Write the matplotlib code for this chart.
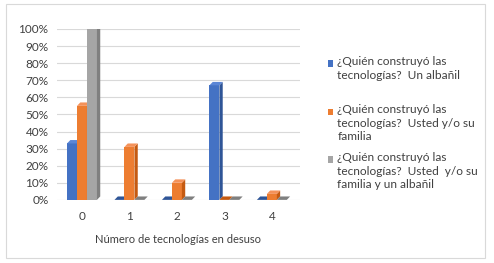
import matplotlib.pyplot as plt
import numpy as np
from matplotlib.patches import Polygon, Rectangle

plt.rcParams['font.family'] = ['Lato', 'DejaVu Sans']

# Data
categories = ['0', '1', '2', '3', '4']
albanil = [0.33, 0.0, 0.0, 0.67, 0.0]
familia = [0.55, 0.31, 0.10, 0.0, 0.035]
familia_albanil = [1.00, 0.0, 0.0, 0.0, 0.0]
series_labels = [
    '¿Quién construyó las\ntecnologías?  Un albañil',
    '¿Quién construyó las\ntecnologías?  Usted y/o su\nfamilia',
    '¿Quién construyó las\ntecnologías?  Usted  y/o su\nfamilia y un albañil',
]
y_ticks = [i / 10 for i in range(11)]
y_ticklabels = [f'{i * 10}%' for i in range(11)]

colors = ['#4472C4', '#ED7D31', '#A5A5A5']
top_colors = ['#5B86D6', '#F4925A', '#BDBDBD']
side_colors = ['#2F5597', '#C55A11', '#7F7F7F']

fig = plt.figure(figsize=(4.94, 2.63), dpi=100)
ax = fig.add_axes([0.115, 0.24, 0.492, 0.65])

width = 0.21
dx, dy = 0.07, 0.02
x = np.arange(len(categories))
all_series = [albanil, familia, familia_albanil]

for i, vals in enumerate(all_series):
    offs = (i - 1) * width
    for xi, v in zip(x, vals):
        left = xi + offs - width / 2
        if v > 0:
            ax.add_patch(Rectangle((left, 0), width, v, facecolor=colors[i],
                                   edgecolor='none', zorder=3))
            ax.add_patch(Polygon([(left + width, 0), (left + width + dx, dy),
                                  (left + width + dx, v + dy), (left + width, v)],
                                 closed=True, facecolor=side_colors[i],
                                 edgecolor='none', zorder=3))
        ax.add_patch(Polygon([(left, v), (left + dx, v + dy),
                              (left + width + dx, v + dy), (left + width, v)],
                             closed=True, facecolor=top_colors[i] if v > 0 else side_colors[i],
                             edgecolor='none', zorder=3))

ax.set_xlim(-0.53, 4.59)
ax.set_ylim(0, 1.0)
ax.set_yticks(y_ticks)
ax.set_yticklabels(y_ticklabels)
ax.set_xticks(x)
ax.set_xticklabels(categories)
ax.tick_params(length=0, labelsize=8.5, colors='#404040', pad=6)
ax.tick_params(axis='x', pad=8)
ax.grid(axis='y', color='#D9D9D9', linewidth=0.8, zorder=0)
for s in ax.spines.values():
    s.set_visible(False)
ax.set_xlabel('Número de tecnologías en desuso', fontsize=8, color='#404040', labelpad=9)

# legend drawn by hand to match layout
leg_y = [0.758, 0.575, 0.393]
for i, lab in enumerate(series_labels):
    fig.patches.append(Rectangle((0.663, leg_y[i] - 0.012), 0.012, 0.024,
                                 facecolor=colors[i], edgecolor='none',
                                 transform=fig.transFigure, figure=fig))
    fig.text(0.683, leg_y[i] + 0.028, lab, fontsize=8.6, color='#404040',
             va='top', ha='left', linespacing=1.25)

# outer chart frame
fig.patches.append(Rectangle((0.012, 0.02), 0.97, 0.965, facecolor='none',
                             edgecolor='#D9D9D9', linewidth=0.8,
                             transform=fig.transFigure, figure=fig))

fig.savefig('out.png', dpi=100)
